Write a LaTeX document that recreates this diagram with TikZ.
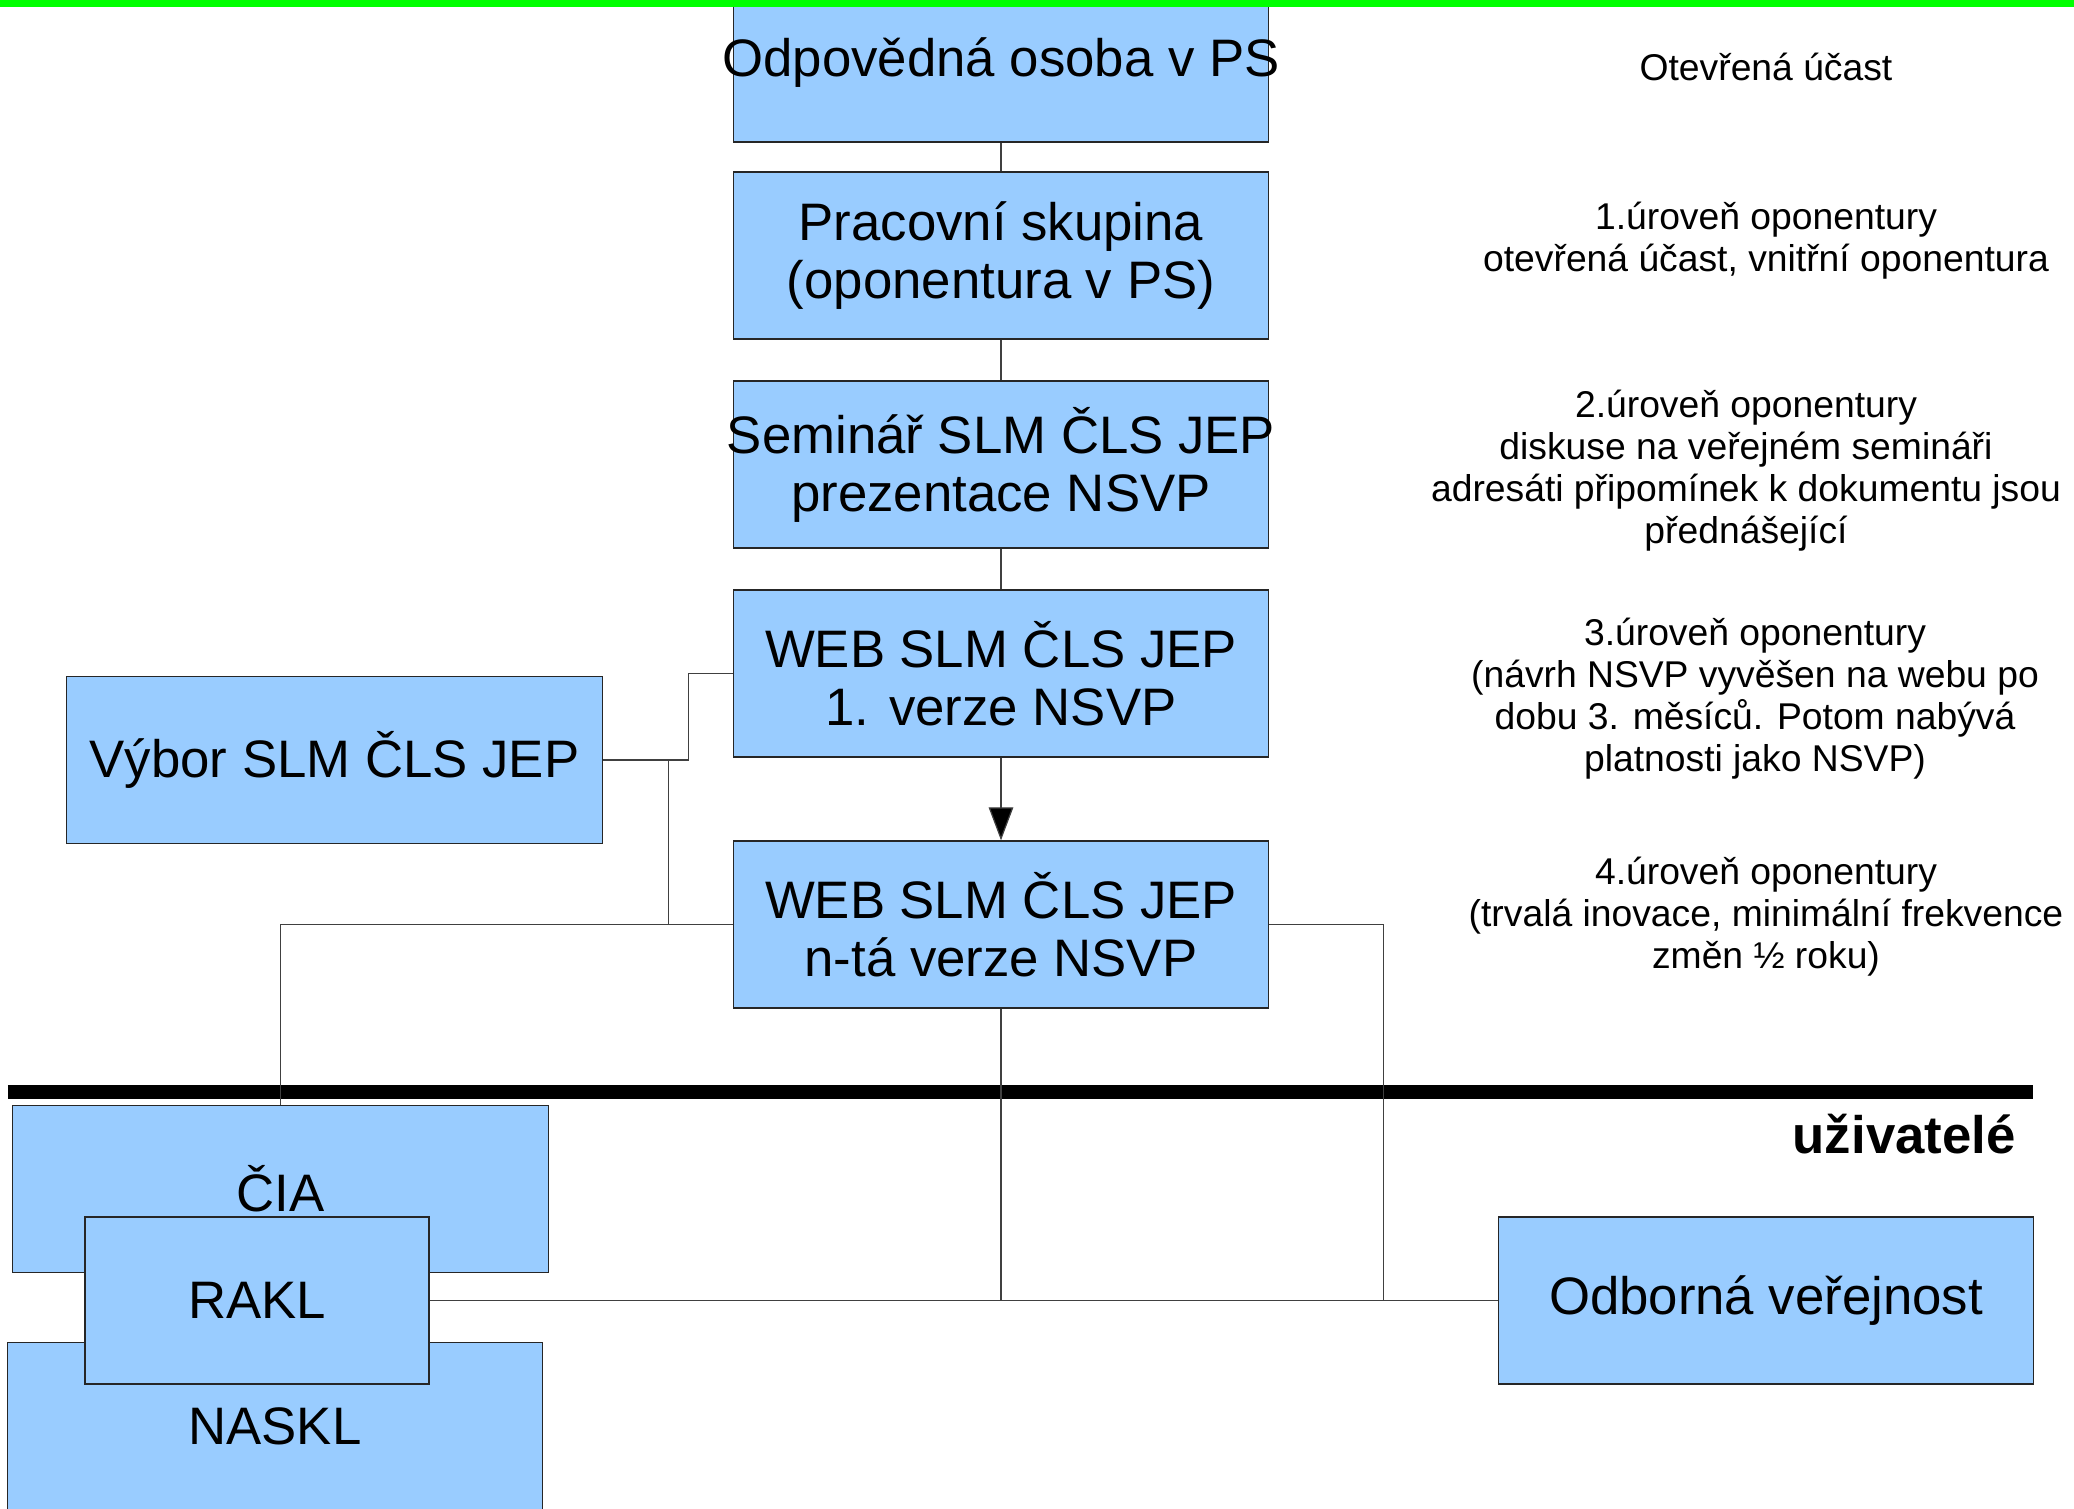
\documentclass[tikz,border=0pt]{standalone}
\usepackage{fontspec}
\setmainfont{Liberation Sans}
\usetikzlibrary{arrows.meta}
\definecolor{boxblue}{HTML}{99CCFF}
\definecolor{topgreen}{HTML}{00FF00}
\tikzset{
  box/.style={draw=black!85, line width=0.35pt, fill=boxblue,
    minimum width=5.34cm, minimum height=1.67cm, inner sep=0pt,
    align=center, font=\fontsize{15}{16.5}\selectfont},
  note/.style={align=center, font=\fontsize{10.6}{11.95}\selectfont},
  link/.style={draw=black!75, line width=0.35pt}
}
\begin{document}
\begin{tikzpicture}[x=0.01cm, y=-0.01cm]
      \useasboundingbox (0,0) rectangle (2074,1509);
      \draw
        (1001,63) node[box, minimum height=1.58cm] (osoba){\makebox[0pt]{Odpovědná osoba v PS}}
        (1001,255.5) node[box] (skupina){Pracovní skupina\\(oponentura v PS)}
        (1001,464.5) node[box] (seminar){\makebox[0pt]{Seminář SLM ČLS JEP}\\prezentace NSVP}
        (1001,673.5) node[box] (web1){WEB SLM ČLS JEP\\1. verze NSVP}
        (1001,924.5) node[box] (webn){WEB SLM ČLS JEP\\n-tá verze NSVP}
        (334.5,760) node[box, minimum width=5.35cm] (vybor){Výbor SLM ČLS JEP}
        (280.5,1189) node[box, minimum width=5.35cm] (cia){ČIA}
        (275,1426) node[box] (naskl){NASKL}
        (257,1300.5) node[box, minimum width=3.44cm] (rakl){RAKL}
        (1766,1300.5) node[box] (odb){Odborná veřejnost};
      \fill[topgreen] (0,0) rectangle (2074,7);
      \draw[line width=4pt] (8,1092) -- (2033,1092);
      \node[anchor=east, font=\fontsize{15}{16.5}\selectfont\bfseries] (uziv) at (2028,1134) {uživatelé};
      \node[note] (l0) at (1766,67) {Otevřená účast};
      \node[note] (l1) at (1766,241) {1.úroveň oponentury\\otevřená účast, vnitřní oponentura};
      \node[note] (l2) at (1746,471) {2.úroveň oponentury\\diskuse na veřejném semináři\\adresáti připomínek k dokumentu jsou\\přednášející};
      \node[note] (l3) at (1755,699) {3.úroveň oponentury\\(návrh NSVP vyvěšen na webu po\\dobu 3. měsíců. Potom nabývá\\platnosti jako NSVP)};
      \node[note] (l4) at (1766,917) {4.úroveň oponentury\\(trvalá inovace, minimální frekvence\\změn ½ roku)};
      \begin{scope}[link]
        \draw (osoba) to (skupina);
        \draw (skupina) to (seminar);
        \draw (seminar) to (web1);
        \draw[-{Triangle[length=9.4pt, width=7pt, fill=black]}] (web1) to (webn);
        \draw (vybor.east) -- ++(86,0) |- (web1.west);
        \draw (vybor.east) -- ++(66,0) |- (webn.west);
        \draw (webn.west) -| (cia.north);
        \draw (webn.east) -- ++(115,0) |- (odb.west);
        \draw (webn.south) -- (webn.south |- rakl.east);
        \draw (rakl.east) -- (odb.west);
      \end{scope}
    \end{tikzpicture}
\end{document}
